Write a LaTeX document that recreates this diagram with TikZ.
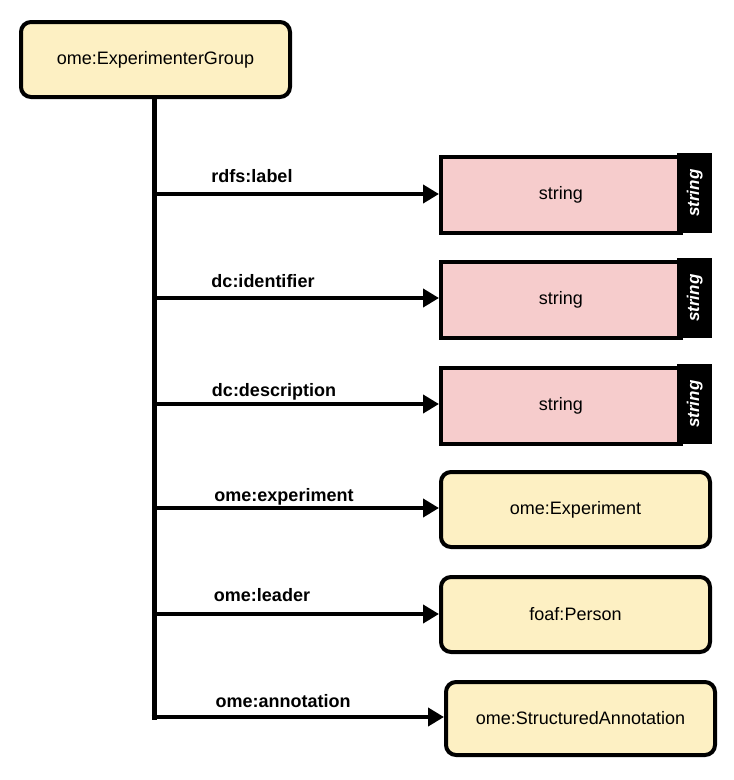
\documentclass[tikz,border=0pt]{standalone}
\usepackage{fontspec}
\setmainfont{Liberation Sans}
\usetikzlibrary{arrows.meta,calc}
\definecolor{classfill}{HTML}{FDF0C3}
\definecolor{litfill}{HTML}{F6CCCC}
\tikzset{
  cls/.style={draw=black, line width=4pt, rounded corners=10pt, fill=classfill,
    minimum width=269pt, minimum height=75pt, inner sep=0pt, font=\fontsize{18}{21}\selectfont, anchor=north west},
  lit/.style={draw=black, line width=4pt, fill=litfill,
    minimum width=240pt, minimum height=76pt, inner sep=0pt, font=\fontsize{18}{21}\selectfont, anchor=north west},
  tag/.style={fill=black, text=white, minimum width=35pt, minimum height=80pt, inner sep=0pt,
    font=\bfseries\itshape\fontsize{17}{19}\selectfont, anchor=north west},
  conn/.style={line width=4pt, -{Triangle[length=16pt,width=18pt]}},
  prop/.style={font=\bfseries\fontsize{18}{21}\selectfont, anchor=base}
}
\begin{document}
\begin{tikzpicture}[x=1pt,y=-1pt]
\useasboundingbox (0,0) rectangle (734,780);
\node[cls] (grp) at (19,20) {ome:ExperimenterGroup};
% literal boxes
\node[lit] (s1) at (439,155) {string};
\node[tag] (t1) at (677,153) {\rotatebox{90}{string}};
\node[lit] (s2) at (439,260) {string};
\node[tag] (t2) at (677,258) {\rotatebox{90}{string}};
\node[lit] (s3) at (439,366) {string};
\node[tag] (t3) at (677,364) {\rotatebox{90}{string}};
% class boxes
\node[cls] (exp) at (439,470) {ome:Experiment};
\node[cls] (per) at (439,575) {foaf:Person};
\node[cls, minimum height=73pt] (ann) at (444,680) {ome:StructuredAnnotation};
% trunk
\coordinate (top) at (154,96);
\coordinate (b1) at (154,194);
\coordinate (b2) at (154,298);
\coordinate (b3) at (154,404);
\coordinate (b4) at (154,508);
\coordinate (b5) at (154,614);
\coordinate (b6) at (154,717);
\draw[line width=5pt] (top) -- (154,719.5);
\draw[conn] (b1) -- (s1.west |- b1);
\draw[conn] (b2) -- (s2.west |- b2);
\draw[conn] (b3) -- (s3.west |- b3);
\draw[conn] (b4) -- (exp.west |- b4);
\draw[conn] (b5) -- (per.west |- b5);
\draw[conn] ($(b6)+(-2.5,0)$) -- (ann.west |- b6);
% labels
\node[prop] (l1) at (252,182) {rdfs:label};
\node[prop] (l2) at (263,287) {dc:identifier};
\node[prop] (l3) at (274,396) {dc:description};
\node[prop] (l4) at (284,501) {ome:experiment};
\node[prop] (l5) at (262,601) {ome:leader};
\node[prop] (l6) at (283,707) {ome:annotation};
\end{tikzpicture}
\end{document}
